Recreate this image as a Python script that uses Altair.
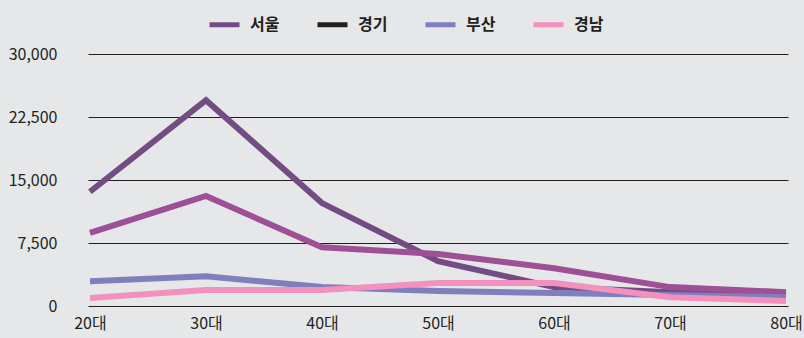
import altair as alt
import pandas as pd

ages = ["20대", "30대", "40대", "50대", "60대", "70대", "80대"]
series = ["서울", "경기", "부산", "경남"]
seoul = [13600, 24500, 12250, 5350, 2250, 1650, 1300]
gyeonggi = [8700, 13100, 7000, 6200, 4500, 2250, 1650]
busan = [2950, 3550, 2250, 1800, 1550, 1300, 1050]
gyeongnam = [950, 1900, 1900, 2750, 2750, 1050, 600]

line_colors = ["#744c84", "#9e4f96", "#7f7fbf", "#f490bd"]
legend_colors = ["#744c84", "#231f20", "#7f7fbf", "#f490bd"]

rows = []
for name, vals in zip(series, [seoul, gyeonggi, busan, gyeongnam]):
    for a, v in zip(ages, vals):
        rows.append({"series": name, "age": a, "value": v})
df = pd.DataFrame(rows)

FONT = "Noto Sans CJK KR"

x = alt.X("age:O", sort=ages, title=None,
          scale=alt.Scale(type="point", padding=0.017),
          axis=alt.Axis(labelAngle=0, ticks=False, domain=False, grid=False,
                        labelPadding=9, labelFontSize=16, labelFont=FONT,
                        labelColor="#231f20"))
y = alt.Y("value:Q", title=None,
          scale=alt.Scale(domain=[0, 30000], nice=False),
          axis=alt.Axis(values=[0, 7500, 15000, 22500, 30000], format=",d",
                        ticks=False, domain=False, grid=True,
                        gridColor="#231f20", gridWidth=1, gridOpacity=1,
                        labelPadding=31, labelFontSize=16, labelFont=FONT,
                        labelColor="#231f20"))

lines = alt.Chart(df).mark_line(strokeWidth=6, strokeCap="butt", strokeJoin="miter").encode(
    x=x, y=y,
    color=alt.Color("series:N", sort=series,
                    scale=alt.Scale(domain=series, range=line_colors), legend=None),
)

legend_layer = alt.Chart(df).transform_filter("false").mark_line(strokeWidth=5).encode(
    x=x, y=y,
    color=alt.Color("series:N", sort=series,
                    scale=alt.Scale(domain=series, range=legend_colors),
                    legend=alt.Legend(title=None, orient="none", direction="horizontal",
                                      legendX=119, legendY=-47,
                                      symbolType="stroke", symbolSize=900,
                                      symbolStrokeWidth=5, labelOffset=8,
                                      columnPadding=27, labelFontSize=16,
                                      labelFontWeight="bold", labelFont=FONT,
                                      labelColor="#231f20")),
)

chart = alt.layer(lines, legend_layer).resolve_scale(color="independent").resolve_legend(
    color="independent"
).properties(
    width=700, height=252,
    autosize=alt.AutoSizeParams(type="none"),
    padding={"left": 88, "top": 54, "right": 16, "bottom": 32},
    background="#e6e7e8",
).configure_view(stroke=None)

chart.save("out.html", embed_options={"renderer": "svg", "actions": False})
